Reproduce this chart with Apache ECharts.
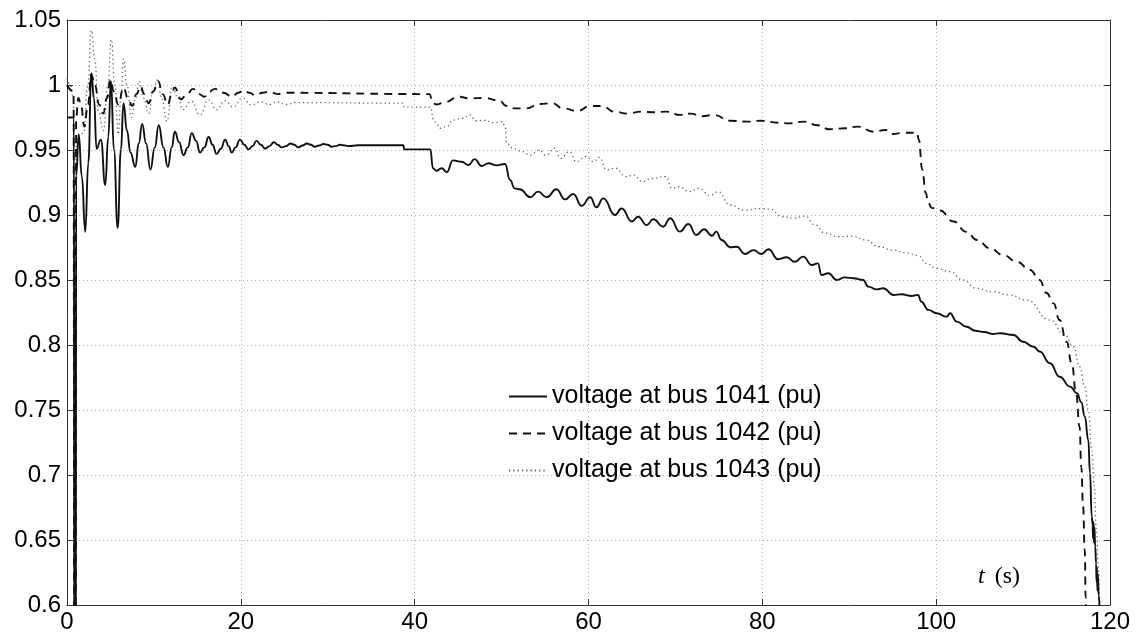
<!DOCTYPE html>
<html>
<head>
<meta charset="utf-8">
<script src="https://cdn.jsdelivr.net/npm/echarts@6/dist/echarts.min.js"></script>
<style>
  html, body { margin: 0; padding: 0; background: #fff; }
  #chart { width: 1136px; height: 637px; }
</style>
</head>
<body>
<div id="chart"></div>
<script>
// Bus voltages (pu) versus time (s)
const seriesNames = [
  'voltage at bus 1041 (pu)',
  'voltage at bus 1042 (pu)',
  'voltage at bus 1043 (pu)'
];

const xTicks = [0, 20, 40, 60, 80, 100, 120];
const yTicks = [0.6, 0.65, 0.7, 0.75, 0.8, 0.85, 0.9, 0.95, 1, 1.05];

// bus 1041
const t1041 = [0, 0.8, 0.85, 1.0, 1.05, 1.35, 1.7, 2.1, 2.45, 2.8, 3.1, 3.4, 3.9, 4.4, 4.75, 5.06, 5.4, 5.83, 6.2, 6.5, 6.9, 7.3, 7.86, 8.25, 8.65, 9.1, 9.6, 10.1, 10.55, 11.1, 11.6, 12.05, 12.4, 12.9, 13.4, 13.9, 14.35, 14.85, 15.3, 15.8, 16.3, 16.75, 17.2, 17.7, 18.2, 18.6, 18.95, 19.4, 19.9, 20.4, 20.9, 21.35, 21.8, 22.3, 22.8, 23.3, 23.8, 24.25, 24.7, 25.2, 25.7, 26.15, 26.6, 27.1, 27.6, 28.05, 28.5, 29.0, 29.5, 30.0, 30.45, 30.9, 31.4, 31.85, 32.3, 33.5, 38.7, 38.8, 41.8, 42.1, 42.5, 43.1, 43.7, 44.4, 45.4, 46.2, 46.9, 47.7, 48.5, 49.4, 50.4, 50.97, 51.5, 52.1, 53.3, 54.2, 55.2, 56.3, 57.3, 58.25, 59.2, 60.2, 60.9, 61.7, 63.05, 63.8, 65.0, 65.7, 66.7, 67.45, 68.6, 69.4, 70.5, 71.5, 72.4, 73.3, 74.2, 74.7, 75.3, 76.3, 77.05, 78.0, 79.0, 79.9, 80.7, 81.8, 82.8, 83.75, 84.7, 85.7, 86.4, 86.8, 87.6, 88.55, 89.5, 90.5, 91.6, 92.2, 93.15, 93.9, 95.1, 96.0, 97.2, 97.9, 98.3, 99.1, 100.05, 101.2, 101.6, 102.35, 103.5, 104.5, 105.5, 106.5, 107.35, 108.9, 110.0, 111.2, 111.9, 113.1, 114.2, 115.4, 116.2, 116.7, 117.1, 117.5, 117.7, 117.9, 118.0, 118.05, 118.1, 118.15, 118.2, 118.3, 118.4, 118.45, 118.5, 118.55, 118.6, 118.7, 118.8];
const v1041 = [0.975, 0.975, 0.5, 0.5, 0.93, 0.962, 0.93, 0.887, 0.94, 1.009, 0.99, 0.951, 0.958, 0.923, 0.96, 1.003, 0.95, 0.89, 0.95, 0.986, 0.965, 0.948, 0.937, 0.955, 0.97, 0.955, 0.935, 0.952, 0.969, 0.952, 0.937, 0.952, 0.964, 0.956, 0.946, 0.952, 0.963, 0.957, 0.948, 0.952, 0.96, 0.954, 0.947, 0.951, 0.958, 0.953, 0.948, 0.952, 0.958, 0.954, 0.9505, 0.953, 0.957, 0.954, 0.951, 0.953, 0.956, 0.954, 0.952, 0.953, 0.955, 0.954, 0.952, 0.9535, 0.955, 0.954, 0.9525, 0.9535, 0.9546, 0.954, 0.9525, 0.953, 0.954, 0.9536, 0.953, 0.9536, 0.9536, 0.9505, 0.9505, 0.936, 0.934, 0.936, 0.933, 0.942, 0.941, 0.9385, 0.943, 0.9377, 0.9398, 0.9382, 0.9392, 0.927, 0.9205, 0.9198, 0.9136, 0.918, 0.9136, 0.9198, 0.912, 0.9162, 0.907, 0.9136, 0.906, 0.9128, 0.9, 0.905, 0.895, 0.8987, 0.8923, 0.8967, 0.891, 0.8975, 0.8872, 0.8931, 0.8846, 0.889, 0.884, 0.8872, 0.8808, 0.8752, 0.8756, 0.87, 0.873, 0.87, 0.8736, 0.866, 0.8675, 0.864, 0.868, 0.8615, 0.8628, 0.8538, 0.8552, 0.85, 0.852, 0.8513, 0.85, 0.8449, 0.8428, 0.8436, 0.8385, 0.839, 0.8377, 0.8385, 0.8333, 0.827, 0.8244, 0.8218, 0.8244, 0.818, 0.814, 0.811, 0.81, 0.8085, 0.809, 0.8077, 0.8025, 0.7987, 0.795, 0.786, 0.7756, 0.768, 0.763, 0.756, 0.745, 0.727, 0.7015, 0.668, 0.662, 0.651, 0.664, 0.648, 0.66, 0.645, 0.632, 0.618, 0.629, 0.611, 0.624, 0.607, 0.598, 0.55];

// bus 1042
const t1042 = [0, 0.75, 0.85, 1.0, 1.05, 1.3, 1.6, 2.0, 2.4, 2.8, 3.2, 3.7, 4.15, 4.6, 5.0, 5.4, 5.9, 6.5, 7.0, 7.5, 8.0, 8.45, 8.9, 9.4, 9.9, 10.5, 11.0, 11.6, 12.0, 12.4, 13.1, 13.8, 14.5, 15.2, 15.8, 16.4, 17.0, 18.0, 19.0, 19.7, 20.3, 21.0, 21.7, 22.5, 23.3, 24.2, 25.0, 41.7, 42.1, 42.5, 43.6, 45.0, 46.3, 48.0, 49.8, 50.5, 51.3, 52.8, 54.4, 55.8, 57.1, 58.7, 60.2, 61.6, 62.95, 64.5, 66.0, 67.6, 68.9, 70.6, 71.7, 73.1, 74.4, 76.3, 78.3, 79.8, 81.8, 83.1, 84.8, 86.4, 87.7, 89.5, 91.0, 92.8, 94.2, 94.9, 96.4, 97.8, 98.0, 98.4, 98.8, 99.1, 99.5, 100.4, 102.0, 103.5, 104.7, 106.2, 107.7, 109.3, 110.8, 111.9, 112.7, 113.5, 114.2, 115.0, 115.6, 116.1, 116.5, 116.7, 116.9, 117.1, 117.2, 117.3];
const v1042 = [1.0, 0.995, 0.5, 0.5, 0.975, 0.99, 0.985, 0.968, 0.985, 1.008, 1.0, 0.985, 0.978, 0.99, 1.004, 0.995, 0.985, 0.998, 0.99, 0.984, 0.993, 0.999, 0.993, 0.986, 0.995, 1.003, 0.993, 0.985, 0.992, 0.998, 0.989, 0.993, 0.997, 0.993, 0.991, 0.995, 0.997, 0.994, 0.991, 0.994, 0.996, 0.994, 0.992, 0.994, 0.995, 0.993, 0.994, 0.993, 0.986, 0.985, 0.987, 0.991, 0.9898, 0.99, 0.988, 0.984, 0.982, 0.982, 0.9854, 0.986, 0.982, 0.98, 0.9838, 0.9838, 0.9795, 0.978, 0.9795, 0.979, 0.9795, 0.977, 0.978, 0.976, 0.977, 0.9725, 0.9718, 0.9725, 0.971, 0.9705, 0.9718, 0.969, 0.966, 0.9667, 0.968, 0.964, 0.9654, 0.9623, 0.9633, 0.9633, 0.958, 0.935, 0.917, 0.909, 0.9055, 0.9035, 0.895, 0.887, 0.8808, 0.8744, 0.8692, 0.864, 0.8577, 0.85, 0.84, 0.832, 0.8192, 0.8025, 0.786, 0.763, 0.737, 0.706, 0.676, 0.642, 0.606, 0.5];

// bus 1043
const t1043 = [0, 0.4, 0.75, 0.85, 1.0, 1.05, 1.4, 1.9, 2.4, 2.8, 3.2, 3.6, 4.2, 4.7, 5.1, 5.5, 5.9, 6.2, 6.5, 6.9, 7.4, 7.9, 8.3, 8.8, 9.4, 9.9, 10.4, 10.9, 11.5, 12.1, 12.8, 13.3, 14.3, 15.3, 16.3, 17.2, 18.2, 19.1, 20.2, 21.2, 22.3, 23.3, 24.2, 25.2, 26.3, 38.7, 38.8, 41.8, 42.2, 42.5, 42.9, 43.7, 44.4, 45.4, 46.4, 47.0, 48.0, 49.1, 50.1, 50.4, 50.6, 51.3, 52.4, 53.3, 54.3, 55.1, 56.1, 56.8, 57.8, 58.6, 59.7, 60.6, 61.2, 62.1, 63.1, 64.3, 65.2, 66.2, 67.3, 68.9, 69.6, 70.4, 71.6, 72.7, 74.0, 74.9, 76.3, 77.9, 79.8, 81.0, 82.2, 83.7, 84.9, 86.1, 87.2, 88.8, 90.3, 91.9, 93.4, 95.0, 96.5, 97.9, 98.9, 100.0, 101.6, 103.1, 104.6, 106.5, 108.4, 110.4, 113.1, 114.8, 115.8, 116.5, 117.1, 117.5, 117.9, 118.15, 118.45, 118.65, 118.85, 118.9];
const v1043 = [1.005, 1.0, 0.99, 0.5, 0.5, 0.96, 0.962, 0.963, 1.0, 1.042, 1.02, 0.98, 0.965, 1.0, 1.035, 1.0, 0.962, 0.99, 1.02, 1.0, 0.975, 0.99, 1.003, 0.99, 0.978, 0.995, 1.004, 0.99, 0.972, 0.999, 0.99, 0.981, 0.9875, 0.977, 0.9885, 0.981, 0.988, 0.983, 0.99, 0.9846, 0.987, 0.985, 0.987, 0.985, 0.9865, 0.986, 0.983, 0.983, 0.973, 0.9705, 0.9667, 0.968, 0.973, 0.9744, 0.9769, 0.9725, 0.9728, 0.971, 0.9718, 0.968, 0.955, 0.9513, 0.9487, 0.946, 0.95, 0.946, 0.9513, 0.9436, 0.9487, 0.941, 0.945, 0.941, 0.9444, 0.9346, 0.936, 0.9295, 0.9308, 0.9256, 0.9282, 0.9295, 0.9205, 0.9218, 0.918, 0.9205, 0.915, 0.9179, 0.9077, 0.9038, 0.905, 0.9044, 0.8987, 0.8975, 0.8992, 0.8923, 0.886, 0.8833, 0.8838, 0.8808, 0.8756, 0.873, 0.871, 0.869, 0.8628, 0.859, 0.8564, 0.85, 0.8436, 0.841, 0.8385, 0.8346, 0.8192, 0.8077, 0.7987, 0.7833, 0.768, 0.75, 0.72, 0.694, 0.658, 0.63, 0.6, 0.55];

function pairs(ts, vs) {
  return ts.map((t, i) => [t, vs[i]]);
}

const sansFont = 'Liberation Sans, Arial, Helvetica, sans-serif';
const serifFont = 'Liberation Serif, DejaVu Serif, serif';
const labelFont = { fontFamily: sansFont, fontSize: 24, color: '#000' };
const axisColor = '#333';
const gridLine = { lineStyle: { color: '#b0b0b0', width: 1, type: [1, 3] } };

const chart = echarts.init(document.getElementById('chart'), null, { renderer: 'canvas' });

const baseX = {
  type: 'value', min: xTicks[0], max: xTicks[xTicks.length - 1], interval: 20,
  axisLine: { show: true, onZero: false, lineStyle: { color: axisColor, width: 1 } },
  axisTick: { show: true, inside: true, length: 6, lineStyle: { color: axisColor } }
};
const baseY = {
  type: 'value', min: yTicks[0], max: yTicks[yTicks.length - 1], interval: 0.05,
  axisLine: { show: true, onZero: false, lineStyle: { color: axisColor, width: 1 } },
  axisTick: { show: true, inside: true, length: 6, lineStyle: { color: axisColor } }
};

const styles = [
  { color: '#111', width: 1.9, type: 'solid' },
  { color: '#111', width: 1.9, type: [8, 6] },
  { color: '#666', width: 1.3, type: [1.3, 3] }
];
const datasets = [pairs(t1041, v1041), pairs(t1042, v1042), pairs(t1043, v1043)];

chart.setOption({
  animation: false,
  backgroundColor: '#fff',
  grid: { left: 67, right: 26, top: 20, bottom: 32, containLabel: false },
  xAxis: [
    Object.assign({}, baseX, {
      position: 'bottom',
      axisLabel: Object.assign({ margin: 5, formatter: v => String(v) }, labelFont),
      splitLine: Object.assign({ show: true }, gridLine)
    }),
    Object.assign({}, baseX, {
      position: 'top',
      axisLabel: { show: false },
      splitLine: { show: false }
    })
  ],
  yAxis: [
    Object.assign({}, baseY, {
      position: 'left',
      axisLabel: Object.assign({ margin: 6, formatter: v => String(+v.toFixed(2)) }, labelFont),
      splitLine: Object.assign({ show: true }, gridLine)
    }),
    Object.assign({}, baseY, {
      position: 'right',
      axisLabel: { show: false },
      splitLine: { show: false }
    })
  ],
  legend: {
    orient: 'vertical',
    left: 503,
    top: 379,
    itemWidth: 38,
    itemHeight: 14,
    itemGap: 12,
    itemStyle: { opacity: 0 },
    textStyle: { fontFamily: sansFont, fontSize: 25, color: '#000' },
    data: seriesNames
  },
  // axis name drawn inside the plot, near the lower right corner
  graphic: [{
    type: 'text',
    left: 978,
    top: 565,
    style: {
      text: '{i|t}{g| }{n|(s)}',
      rich: {
        i: { fontFamily: serifFont, fontStyle: 'italic', fontSize: 24, fill: '#000' },
        g: { fontFamily: serifFont, fontSize: 24, width: 10 },
        n: { fontFamily: serifFont, fontSize: 24, fill: '#000' }
      }
    }
  }],
  series: seriesNames.map((name, i) => ({
    name: name,
    type: 'line',
    data: datasets[i],
    xAxisIndex: 0,
    yAxisIndex: 0,
    symbol: 'none',
    showSymbol: false,
    smooth: 0.5,
    smoothMonotone: 'x',
    clip: true,
    z: 3 - i,
    lineStyle: styles[i],
    itemStyle: { color: styles[i].color }
  }))
});
</script>
</body>
</html>
